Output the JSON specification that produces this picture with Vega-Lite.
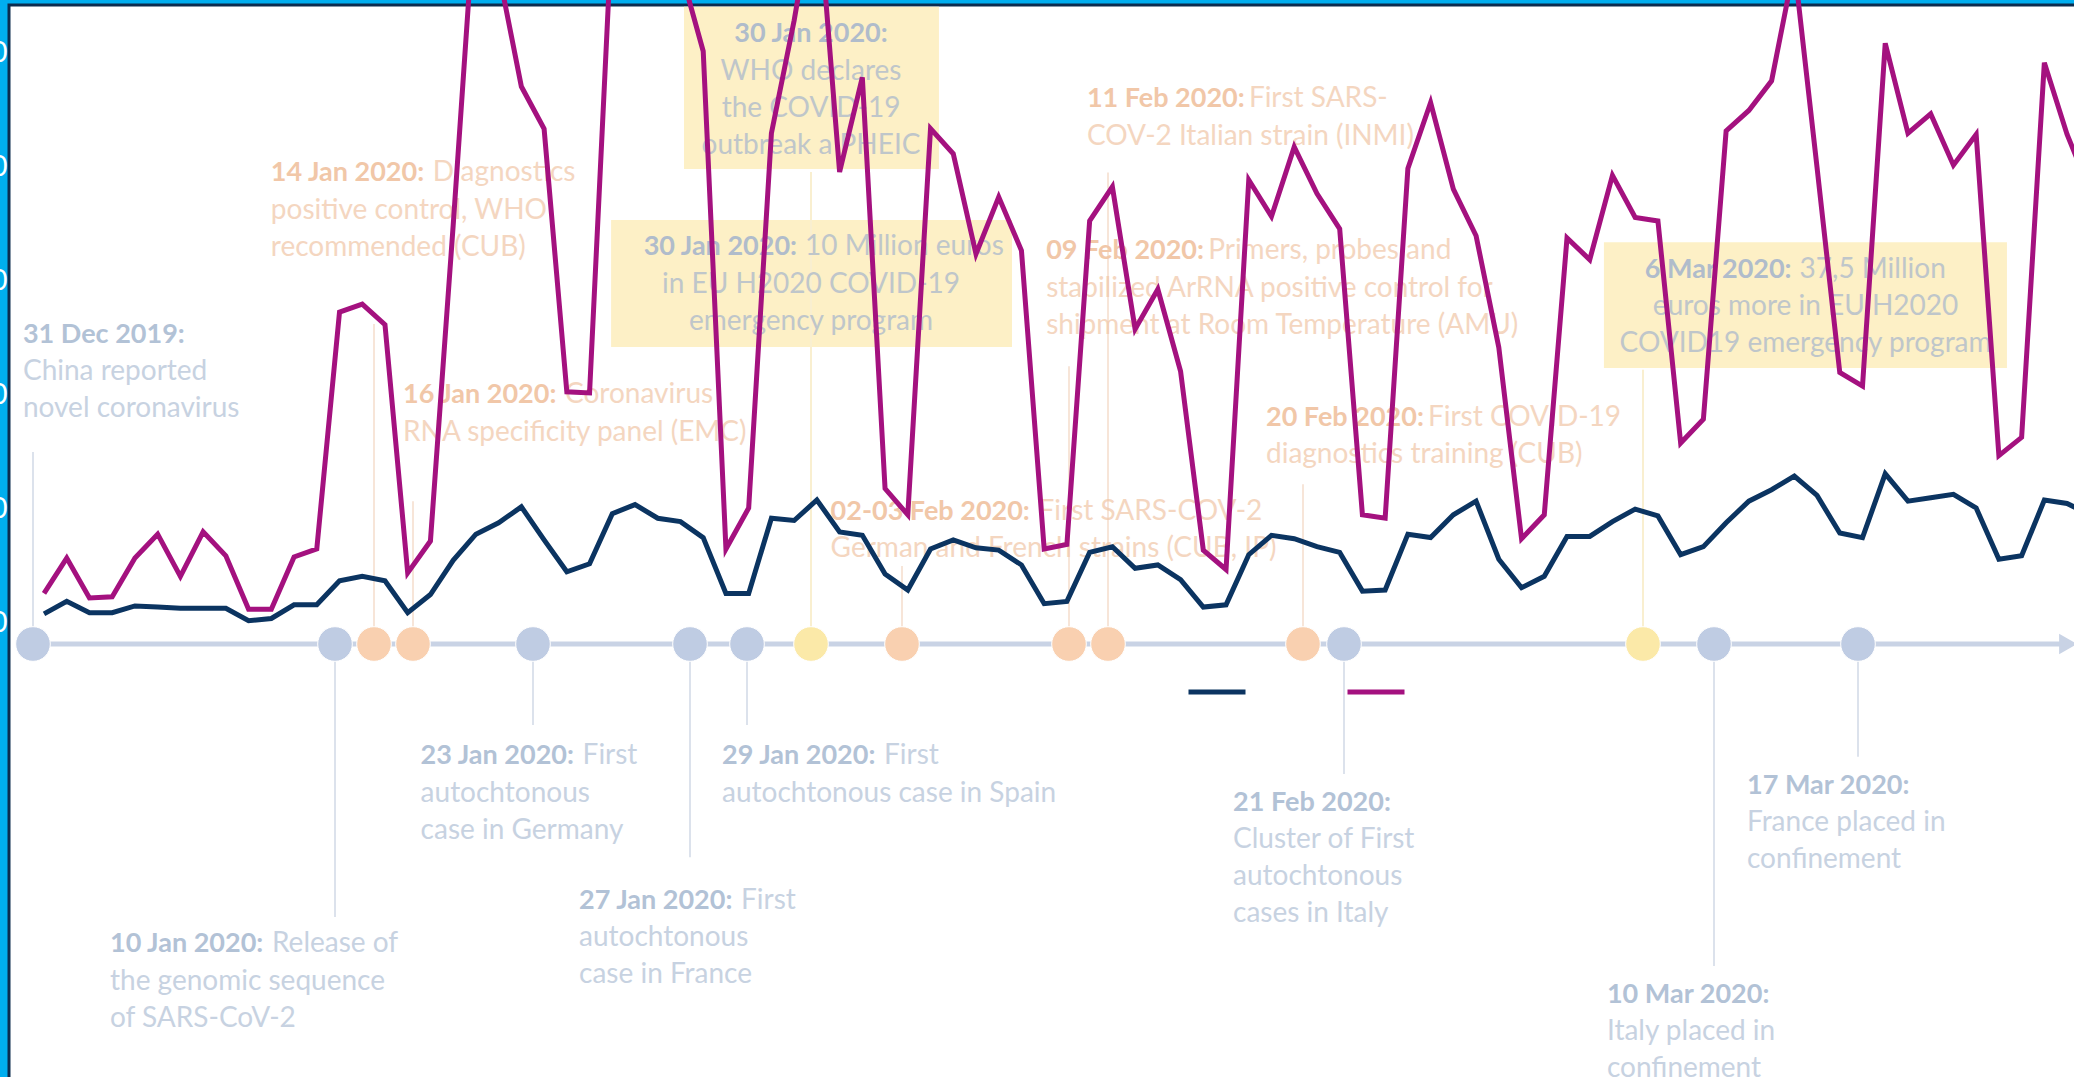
{
  "$schema": "https://vega.github.io/schema/vega-lite/v6.json",
  "width": 2069,
  "height": 1076,
  "autosize": {"type": "none"},
  "padding": {"left": 9, "top": 5, "right": -4, "bottom": -4},
  "background": "#00aeef",
  "config": {
    "view": {"fill": "#ffffff", "stroke": "#0c2c4e", "strokeWidth": 3},
    "font": "Lato"
  },
  "datasets": {
    "trend": [
      {"date":"2020-01-02","Series 1":0.8,"Series 2":2.6},
      {"date":"2020-01-03","Series 1":1.9,"Series 2":5.7},
      {"date":"2020-01-04","Series 1":0.9,"Series 2":2.2},
      {"date":"2020-01-05","Series 1":0.9,"Series 2":2.3},
      {"date":"2020-01-06","Series 1":1.5,"Series 2":5.7},
      {"date":"2020-01-07","Series 1":1.4,"Series 2":7.8},
      {"date":"2020-01-08","Series 1":1.3,"Series 2":4.1},
      {"date":"2020-01-09","Series 1":1.3,"Series 2":8.0},
      {"date":"2020-01-10","Series 1":1.3,"Series 2":5.9},
      {"date":"2020-01-11","Series 1":0.2,"Series 2":1.2},
      {"date":"2020-01-12","Series 1":0.4,"Series 2":1.2},
      {"date":"2020-01-13","Series 1":1.6,"Series 2":5.8},
      {"date":"2020-01-14","Series 1":1.6,"Series 2":6.5},
      {"date":"2020-01-15","Series 1":3.7,"Series 2":27.3},
      {"date":"2020-01-16","Series 1":4.1,"Series 2":28.0},
      {"date":"2020-01-17","Series 1":3.7,"Series 2":26.2},
      {"date":"2020-01-18","Series 1":0.9,"Series 2":4.4},
      {"date":"2020-01-19","Series 1":2.5,"Series 2":7.2},
      {"date":"2020-01-20","Series 1":5.5,"Series 2":34.9},
      {"date":"2020-01-21","Series 1":7.8,"Series 2":64.0},
      {"date":"2020-01-22","Series 1":8.8,"Series 2":57.2},
      {"date":"2020-01-23","Series 1":10.2,"Series 2":47.1},
      {"date":"2020-01-24","Series 1":7.3,"Series 2":43.4},
      {"date":"2020-01-25","Series 1":4.5,"Series 2":20.3},
      {"date":"2020-01-26","Series 1":5.2,"Series 2":20.2},
      {"date":"2020-01-27","Series 1":9.6,"Series 2":61.6},
      {"date":"2020-01-28","Series 1":10.4,"Series 2":66.0},
      {"date":"2020-01-29","Series 1":9.2,"Series 2":63.0},
      {"date":"2020-01-30","Series 1":8.9,"Series 2":57.4},
      {"date":"2020-01-31","Series 1":7.5,"Series 2":50.2},
      {"date":"2020-02-01","Series 1":2.6,"Series 2":6.5},
      {"date":"2020-02-02","Series 1":2.6,"Series 2":10.1},
      {"date":"2020-02-03","Series 1":9.2,"Series 2":43.0},
      {"date":"2020-02-04","Series 1":9.0,"Series 2":52.9},
      {"date":"2020-02-05","Series 1":10.8,"Series 2":64.5},
      {"date":"2020-02-06","Series 1":8.0,"Series 2":39.6},
      {"date":"2020-02-07","Series 1":7.7,"Series 2":47.9},
      {"date":"2020-02-08","Series 1":4.3,"Series 2":11.8},
      {"date":"2020-02-09","Series 1":2.9,"Series 2":9.5},
      {"date":"2020-02-10","Series 1":6.5,"Series 2":43.4},
      {"date":"2020-02-11","Series 1":7.3,"Series 2":41.2},
      {"date":"2020-02-12","Series 1":6.6,"Series 2":32.4},
      {"date":"2020-02-13","Series 1":6.4,"Series 2":37.4},
      {"date":"2020-02-14","Series 1":5.1,"Series 2":32.7},
      {"date":"2020-02-15","Series 1":1.7,"Series 2":6.5},
      {"date":"2020-02-16","Series 1":1.9,"Series 2":6.9},
      {"date":"2020-02-17","Series 1":6.2,"Series 2":35.3},
      {"date":"2020-02-18","Series 1":6.7,"Series 2":38.3},
      {"date":"2020-02-19","Series 1":4.8,"Series 2":25.8},
      {"date":"2020-02-20","Series 1":5.1,"Series 2":29.3},
      {"date":"2020-02-21","Series 1":3.8,"Series 2":22.1},
      {"date":"2020-02-22","Series 1":1.4,"Series 2":6.4},
      {"date":"2020-02-23","Series 1":1.6,"Series 2":4.7},
      {"date":"2020-02-24","Series 1":6.0,"Series 2":38.9},
      {"date":"2020-02-25","Series 1":7.7,"Series 2":35.7},
      {"date":"2020-02-26","Series 1":7.4,"Series 2":41.8},
      {"date":"2020-02-27","Series 1":6.7,"Series 2":37.7},
      {"date":"2020-02-28","Series 1":6.2,"Series 2":34.6},
      {"date":"2020-02-29","Series 1":2.8,"Series 2":9.5},
      {"date":"2020-03-01","Series 1":2.9,"Series 2":9.2},
      {"date":"2020-03-02","Series 1":7.8,"Series 2":39.9},
      {"date":"2020-03-03","Series 1":7.5,"Series 2":45.7},
      {"date":"2020-03-04","Series 1":9.5,"Series 2":38.1},
      {"date":"2020-03-05","Series 1":10.7,"Series 2":34.0},
      {"date":"2020-03-06","Series 1":5.6,"Series 2":24.2},
      {"date":"2020-03-07","Series 1":3.1,"Series 2":7.4},
      {"date":"2020-03-08","Series 1":4.1,"Series 2":9.5},
      {"date":"2020-03-09","Series 1":7.6,"Series 2":33.8},
      {"date":"2020-03-10","Series 1":7.6,"Series 2":31.9},
      {"date":"2020-03-11","Series 1":8.9,"Series 2":39.3},
      {"date":"2020-03-12","Series 1":10.0,"Series 2":35.6},
      {"date":"2020-03-13","Series 1":9.4,"Series 2":35.3},
      {"date":"2020-03-14","Series 1":6.0,"Series 2":15.8},
      {"date":"2020-03-15","Series 1":6.7,"Series 2":17.9},
      {"date":"2020-03-16","Series 1":8.8,"Series 2":43.2},
      {"date":"2020-03-17","Series 1":10.7,"Series 2":45.0},
      {"date":"2020-03-18","Series 1":11.7,"Series 2":47.6},
      {"date":"2020-03-19","Series 1":12.9,"Series 2":57.7},
      {"date":"2020-03-20","Series 1":11.2,"Series 2":40.0},
      {"date":"2020-03-21","Series 1":7.9,"Series 2":22.0},
      {"date":"2020-03-22","Series 1":7.5,"Series 2":20.8},
      {"date":"2020-03-23","Series 1":13.1,"Series 2":50.9},
      {"date":"2020-03-24","Series 1":10.7,"Series 2":43.0},
      {"date":"2020-03-25","Series 1":11.0,"Series 2":44.7},
      {"date":"2020-03-26","Series 1":11.3,"Series 2":40.2},
      {"date":"2020-03-27","Series 1":10.1,"Series 2":42.9},
      {"date":"2020-03-28","Series 1":5.6,"Series 2":14.7},
      {"date":"2020-03-29","Series 1":5.9,"Series 2":16.3},
      {"date":"2020-03-30","Series 1":10.8,"Series 2":49.2},
      {"date":"2020-03-31","Series 1":10.5,"Series 2":42.9},
      {"date":"2020-04-01","Series 1":9.5,"Series 2":38.0}
    ],
    "events": [
      {"date":"2019-12-31","kind":"event","reach":5.19},
      {"date":"2020-01-10","kind":"event","reach":-7.38},
      {"date":"2020-01-14","kind":"lab","reach":8.65},
      {"date":"2020-01-16","kind":"lab","reach":3.86},
      {"date":"2020-01-23","kind":"event","reach":-2.19},
      {"date":"2020-01-27","kind":"event","reach":-5.76},
      {"date":"2020-01-29","kind":"event","reach":-2.19},
      {"date":"2020-01-30","kind":"funding","reach":12.76},
      {"date":"2020-02-02","kind":"lab","reach":2.11},
      {"date":"2020-02-09","kind":"lab","reach":7.51},
      {"date":"2020-02-11","kind":"lab","reach":12.74},
      {"date":"2020-02-20","kind":"lab","reach":4.32},
      {"date":"2020-02-21","kind":"event","reach":-3.51},
      {"date":"2020-03-06","kind":"funding","reach":7.41},
      {"date":"2020-03-10","kind":"event","reach":-8.7},
      {"date":"2020-03-17","kind":"event","reach":-3.05}
    ],
    "axisline": [
      {"start":"2019-12-31","end":"2020-03-28"}
    ],
    "notes": [
      {"id":"A","date":"2019-12-31","kind":"event","at":"2019-12-30T16:00:00Z","level":8.36,"head":"31 Dec 2019:","first":"","more":"China reported\nnovel coronavirus"},
      {"id":"B","date":"2020-01-14","kind":"lab","at":"2020-01-07T21:00:00Z","level":12.72,"head":"14 Jan 2020:","first":"Diagnostics","more":"positive control, WHO\nrecommended (CUB)"},
      {"id":"C","date":"2020-01-16","kind":"lab","at":"2020-01-15T11:45:00Z","level":6.72,"head":"16 Jan 2020:","first":"Coronavirus","more":"RNA specificity panel (EMC)"},
      {"id":"F","date":"2020-02-02","kind":"lab","at":"2020-01-30T15:30:00Z","level":3.57,"head":"02-03 Feb 2020:","first":"First SARS-COV-2","more":"German and French strains (CUB, IP)"},
      {"id":"G","date":"2020-02-11","kind":"lab","at":"2020-02-09T22:00:00Z","level":14.72,"head":"11 Feb 2020:","first":"First SARS-","more":"COV-2 Italian strain (INMI)"},
      {"id":"H","date":"2020-02-09","kind":"lab","at":"2020-02-08T01:00:00Z","level":10.61,"head":"09 Feb 2020:","first":"Primers, probes and","more":"stabilized ArRNA positive control for\nshipment at Room Temperature (AMU)"},
      {"id":"I","date":"2020-02-20","kind":"lab","at":"2020-02-18T07:00:00Z","level":6.11,"head":"20 Feb 2020:","first":"First COVID-19","more":"diagnostics training (CUB)"},
      {"id":"N","date":"2020-01-10","kind":"event","at":"2020-01-02T13:10:00Z","level":-8.12,"head":"10 Jan 2020:","first":"Release of","more":"the genomic sequence\nof SARS-CoV-2"},
      {"id":"K","date":"2020-01-23","kind":"event","at":"2020-01-16T10:40:00Z","level":-3.04,"head":"23 Jan 2020:","first":"First","more":"autochtonous\ncase in Germany"},
      {"id":"M","date":"2020-01-27","kind":"event","at":"2020-01-24T04:10:00Z","level":-6.94,"head":"27 Jan 2020:","first":"First","more":"autochtonous\ncase in France"},
      {"id":"L","date":"2020-01-29","kind":"event","at":"2020-01-28T03:00:00Z","level":-3.04,"head":"29 Jan 2020:","first":"First","more":"autochtonous case in Spain"},
      {"id":"O","date":"2020-02-21","kind":"event","at":"2020-02-16T18:30:00Z","level":-4.29,"head":"21 Feb 2020:","first":"","more":"Cluster of First\nautochtonous\ncases in Italy"},
      {"id":"Q","date":"2020-03-10","kind":"event","at":"2020-03-04T07:30:00Z","level":-9.48,"head":"10 Mar 2020:","first":"","more":"Italy placed in\nconfinement"},
      {"id":"P","date":"2020-03-17","kind":"event","at":"2020-03-11T14:30:00Z","level":-3.83,"head":"17 Mar 2020:","first":"","more":"France placed in\nconfinement"}
    ],
    "boxes": [
      {"id":"D","date":"2020-01-30","kind":"funding","at":"2020-01-30T00:00:00Z","level":16.48,"head":"30 Jan 2020:","first":"","more":"WHO declares\nthe COVID-19\noutbreak a PHEIC","from":"2020-01-26T20:20:00Z","to":"2020-02-03T13:10:00Z","top":17.22,"bottom":12.84},
      {"id":"E","date":"2020-01-30","kind":"funding","at":"2020-01-30T00:00:00Z","level":10.72,"head":"30 Jan 2020:","first":"10 Million euros","more":"in EU H2020 COVID-19\nemergency program","from":"2020-01-24T23:45:00Z","to":"2020-02-06T14:40:00Z","top":11.46,"bottom":8.03},
      {"id":"J","date":"2020-03-06","kind":"funding","at":"2020-03-14T10:50:00Z","level":10.11,"head":"6 Mar 2020:","first":"37,5 Million","more":"euros more in EU H2020\nCOVID19 emergency program","from":"2020-03-04T04:05:00Z","to":"2020-03-24T19:15:00Z","top":10.86,"bottom":7.46}
    ]
  },
  "layer": [
    {
      "layer": [
        {
          "data": {"name": "boxes"},
          "mark": {"type": "rect", "fill": "#fdf0c6"},
          "encoding": {
            "x": {"field": "from", "type": "temporal", "axis": null,
                  "scale": {"type": "utc", "nice": false,
                            "domainRaw": {"expr": "[1577750400000, 1578614400000, 1578960000000, 1579132800000, 1579737600000, 1580083200000, 1580256000000, 1580342400000, 1580601600000, 1581206400000, 1581379200000, 1582156800000, 1582243200000, 1583452800000, 1583798400000, 1584403200000, 1585353600000]"},
                            "range": [24, 326, 365, 404, 524, 681, 738, 802, 893, 1060, 1099, 1294, 1335, 1634, 1705, 1849, 2059]}},
            "x2": {"field": "to"},
            "y": {"field": "top", "type": "quantitative", "axis": null,
                  "scale": {"domain": [-11.81, 17.27], "nice": false, "zero": false}},
            "y2": {"field": "bottom"}
          }
        },
        {
          "data": {"name": "events"},
          "mark": {"type": "rule", "strokeWidth": 2},
          "encoding": {
            "x": {"field": "date", "type": "temporal", "axis": null},
            "y": {"field": "reach", "type": "quantitative", "axis": null},
            "y2": {"datum": 0},
            "stroke": {"field": "kind", "type": "nominal", "legend": null,
                       "scale": {"domain": ["event", "lab", "funding"], "range": ["#dce2ec", "#f7e5d8", "#f9efd0"]}}
          }
        },
        {
          "data": {"name": "axisline"},
          "mark": {"type": "rule", "stroke": "#c9d3e5", "strokeWidth": 5},
          "encoding": {
            "x": {"field": "start", "type": "temporal", "axis": null},
            "x2": {"field": "end"},
            "y": {"datum": 0, "type": "quantitative", "axis": null}
          }
        },
        {
          "data": {"name": "axisline"},
          "mark": {"type": "point", "shape": "triangle-right", "filled": true, "color": "#c9d3e5", "size": 420, "opacity": 1},
          "encoding": {
            "x": {"field": "end", "type": "temporal", "axis": null},
            "y": {"datum": 0, "type": "quantitative", "axis": null}
          }
        },
        {
          "data": {"name": "events"},
          "mark": {"type": "point", "filled": true, "size": 1200, "opacity": 1, "stroke": "#ffffff", "strokeWidth": 1},
          "encoding": {
            "x": {"field": "date", "type": "temporal", "axis": null},
            "y": {"datum": 0, "type": "quantitative", "axis": null},
            "color": {"field": "kind", "type": "nominal", "legend": null,
                      "scale": {"domain": ["event", "lab", "funding"], "range": ["#bfcce3", "#f9d0b0", "#fbe9a8"]}}
          }
        },
        {
          "data": {"name": "notes"},
          "mark": {"type": "text", "align": "left", "baseline": "middle", "fontSize": 27, "fontWeight": "bold"},
          "encoding": {
            "x": {"field": "at", "type": "temporal", "axis": null},
            "y": {"field": "level", "type": "quantitative", "axis": null},
            "text": {"field": "head"},
            "fill": {"field": "kind", "type": "nominal", "legend": null,
                     "scale": {"domain": ["event", "lab", "funding"], "range": ["#b2c2d6", "#f1c7a8", "#b0bccb"]}}
          }
        },
        {
          "data": {"name": "notes"},
          "transform": [{"filter": "datum.first != '' && length(datum.head) <= 12"}],
          "mark": {"type": "text", "align": "left", "baseline": "middle", "fontSize": 28, "dx": 162, "opacity": 0.72},
          "encoding": {
            "x": {"field": "at", "type": "temporal", "axis": null},
            "y": {"field": "level", "type": "quantitative", "axis": null},
            "text": {"field": "first"},
            "fill": {"field": "kind", "type": "nominal", "legend": null}
          }
        },
        {
          "data": {"name": "notes"},
          "transform": [{"filter": "length(datum.head) > 12"}],
          "mark": {"type": "text", "align": "left", "baseline": "middle", "fontSize": 28, "dx": 208, "opacity": 0.72},
          "encoding": {
            "x": {"field": "at", "type": "temporal", "axis": null},
            "y": {"field": "level", "type": "quantitative", "axis": null},
            "text": {"field": "first"},
            "fill": {"field": "kind", "type": "nominal", "legend": null}
          }
        },
        {
          "data": {"name": "notes"},
          "mark": {"type": "text", "align": "left", "baseline": "line-top", "lineBreak": "\n", "lineHeight": 37, "dy": 18.5, "fontSize": 28, "opacity": 0.72},
          "encoding": {
            "x": {"field": "at", "type": "temporal", "axis": null},
            "y": {"field": "level", "type": "quantitative", "axis": null},
            "text": {"field": "more"},
            "fill": {"field": "kind", "type": "nominal", "legend": null}
          }
        },
        {
          "data": {"name": "boxes"},
          "transform": [{"filter": "datum.first == ''"}],
          "mark": {"type": "text", "align": "center", "baseline": "middle", "fontSize": 27, "fontWeight": "bold"},
          "encoding": {
            "x": {"field": "at", "type": "temporal", "axis": null},
            "y": {"field": "level", "type": "quantitative", "axis": null},
            "text": {"field": "head"},
            "fill": {"field": "kind", "type": "nominal", "legend": null}
          }
        },
        {
          "data": {"name": "boxes"},
          "transform": [{"filter": "datum.first != ''"}],
          "mark": {"type": "text", "align": "right", "baseline": "middle", "fontSize": 27, "fontWeight": "bold", "dx": -14},
          "encoding": {
            "x": {"field": "at", "type": "temporal", "axis": null},
            "y": {"field": "level", "type": "quantitative", "axis": null},
            "text": {"field": "head"},
            "fill": {"field": "kind", "type": "nominal", "legend": null}
          }
        },
        {
          "data": {"name": "boxes"},
          "transform": [{"filter": "datum.first != ''"}],
          "mark": {"type": "text", "align": "left", "baseline": "middle", "fontSize": 28, "dx": -6, "opacity": 0.8},
          "encoding": {
            "x": {"field": "at", "type": "temporal", "axis": null},
            "y": {"field": "level", "type": "quantitative", "axis": null},
            "text": {"field": "first"},
            "fill": {"field": "kind", "type": "nominal", "legend": null}
          }
        },
        {
          "data": {"name": "boxes"},
          "mark": {"type": "text", "align": "center", "baseline": "line-top", "lineBreak": "\n", "lineHeight": 37, "dy": 18.5, "fontSize": 28, "opacity": 0.8},
          "encoding": {
            "x": {"field": "at", "type": "temporal", "axis": null},
            "y": {"field": "level", "type": "quantitative", "axis": null},
            "text": {"field": "more"},
            "fill": {"field": "kind", "type": "nominal", "legend": null}
          }
        }
      ]
    },
    {
      "data": {"name": "trend"},
      "transform": [{"fold": ["Series 1", "Series 2"], "as": ["series", "value"]}],
      "mark": {"type": "line", "strokeWidth": 5},
      "encoding": {
        "x": {"field": "date", "type": "temporal", "axis": null,
              "scale": {"type": "utc", "domain": [1577790144000, 1585654272000], "nice": false}},
        "y": {"field": "value", "type": "quantitative",
              "scale": {"domain": [-40.21, 54.26], "nice": false, "zero": false},
              "axis": {"values": [0, 10, 20, 30, 40, 50], "domain": false, "ticks": false, "grid": false, "title": null,
                       "labelColor": "#ffffff", "labelFontSize": 28, "labelFont": "Lato", "labelPadding": 2}},
        "color": {"field": "series", "type": "nominal",
                  "scale": {"domain": ["Series 1", "Series 2"], "range": ["#0b3461", "#a4117f"]},
                  "legend": {"orient": "none", "legendX": 1177, "legendY": 656, "direction": "horizontal", "title": null,
                             "symbolType": "stroke", "symbolSize": 3249, "symbolStrokeWidth": 5,
                             "labelExpr": "''", "labelOffset": 0, "columnPadding": 81, "padding": 0}}
      }
    }
  ],
  "resolve": {"scale": {"x": "independent", "y": "independent", "color": "independent"}}
}
